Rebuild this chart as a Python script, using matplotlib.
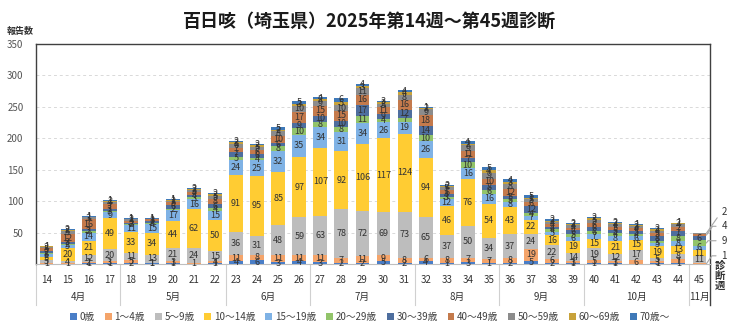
import matplotlib
matplotlib.use("Agg")
import matplotlib.pyplot as plt
import matplotlib.transforms as mtransforms
from matplotlib.patches import Patch
import numpy as np

plt.rcParams['font.family'] = ['Noto Sans CJK JP', 'DejaVu Sans']

weeks = list(range(14, 46))
months = ['4月', '5月', '6月', '7月', '8月', '9月', '10月', '11月']
month_weeks = [4, 5, 4, 5, 4, 4, 5, 1]

age_groups = ['0歳', '1～4歳', '5～9歳', '10～14歳', '15～19歳', '20～29歳',
              '30～39歳', '40～49歳', '50～59歳', '60～69歳', '70歳～']
colors = ['#4A7EC7', '#F4A46A', '#BDBDBD', '#FFCC33', '#7FB2E5', '#92C46A',
          '#4E6E9E', '#C47A4C', '#8C8C8C', '#C8A23A', '#3F79B8']

# counts per week (14..45) for each age group
age_0 = [0, 0, 1, 1, 2, 1, 1, 0, 1, 4, 6, 3, 4, 3, 2, 2, 5, 2,
         4, 1, 3, 1, 2, 5, 2, 1, 1, 1, 0, 1, 1, 0]
age_1_4 = [1, 1, 2, 3, 5, 1, 3, 1, 4, 11, 8, 11, 11, 11, 7, 11, 9, 8,
           6, 8, 7, 7, 8, 19, 6, 3, 5, 3, 6, 3, 7, 1]
age_5_9 = [5, 4, 12, 20, 11, 13, 21, 24, 15, 36, 31, 48, 59, 63, 78, 72, 69, 73,
           65, 37, 50, 34, 37, 24, 22, 14, 19, 12, 17, 5, 8, 11]
age_10_14 = [5, 20, 21, 49, 33, 34, 44, 62, 50, 91, 95, 85, 97, 107, 92, 106, 117, 124,
             94, 46, 76, 54, 43, 22, 16, 19, 15, 21, 15, 19, 13, 11]
age_15_19 = [5, 5, 14, 9, 11, 15, 17, 16, 15, 24, 25, 32, 35, 34, 31, 34, 26, 19,
             26, 12, 16, 16, 8, 7, 5, 6, 7, 8, 6, 5, 8, 6]
age_20_29 = [2, 2, 2, 3, 2, 2, 2, 3, 4, 5, 4, 8, 10, 8, 8, 11, 4, 7,
             10, 3, 10, 6, 5, 4, 4, 5, 6, 4, 4, 3, 8, 9]
age_30_39 = [2, 3, 3, 3, 2, 2, 6, 4, 6, 7, 6, 6, 9, 10, 10, 17, 9, 12,
             14, 4, 7, 8, 5, 12, 4, 6, 6, 5, 5, 8, 7, 6]
age_40_49 = [5, 12, 16, 7, 3, 3, 5, 4, 8, 7, 6, 10, 17, 15, 15, 16, 11, 16,
             18, 6, 11, 10, 12, 6, 4, 4, 6, 5, 4, 5, 7, 4]
age_50_59 = [2, 5, 3, 4, 2, 1, 2, 3, 5, 6, 5, 8, 10, 9, 10, 11, 5, 8,
             9, 5, 9, 9, 8, 5, 4, 4, 5, 4, 3, 4, 4, 2]
age_60_69 = [1, 2, 1, 2, 1, 0, 1, 2, 3, 3, 3, 2, 3, 2, 5, 3, 2, 4,
             2, 2, 2, 4, 3, 1, 2, 2, 3, 2, 2, 2, 2, 0]
age_70 = [0, 2, 1, 1, 1, 1, 1, 2, 2, 2, 2, 5, 5, 4, 6, 4, 3, 4,
          1, 2, 4, 5, 4, 5, 2, 2, 2, 2, 1, 2, 1, 0]

series = [age_0, age_1_4, age_5_9, age_10_14, age_15_19, age_20_29,
          age_30_39, age_40_49, age_50_59, age_60_69, age_70]

# age groups of the last week whose values sit outside the bar
outside_last = [8, 7, 5, 1]

fig = plt.figure(figsize=(7.4, 3.27), dpi=100)
ax = fig.add_axes([36 / 740, 1 - 264 / 327, 674 / 740, 220 / 327])

x = np.arange(len(weeks))
bottom = np.zeros(len(weeks))
for gi, (vals, col) in enumerate(zip(series, colors)):
    vals = np.array(vals, dtype=float)
    ax.bar(x, vals, bottom=bottom, width=0.66, color=col, zorder=3)
    for i, v in enumerate(vals):
        if v <= 0:
            continue
        if i == len(weeks) - 1 and gi in outside_last:
            continue
        ax.text(x[i], bottom[i] + v / 2, f'{int(v)}', ha='center', va='center',
                fontsize=6.5, color='#333333', zorder=5)
    bottom += vals

# callout labels for the last bar, stacked to the right of the plot
last = len(weeks) - 1
cum = np.cumsum([s[last] for s in series])
callout_y = [83, 60, 37, 13]
for gi, ty in zip(outside_last, callout_y):
    mid = cum[gi] - series[gi][last] / 2
    ax.annotate(f'{series[gi][last]}', xy=(x[last] + 0.33, mid),
                xytext=(x[last] + 1.05, ty), fontsize=7, color='#333333',
                ha='left', va='center', annotation_clip=False,
                arrowprops=dict(arrowstyle='-', color='#A6A6A6', lw=0.8,
                                shrinkA=2, shrinkB=0,
                                connectionstyle='angle,angleA=0,angleB=55,rad=0'))

ax.set_xlim(-0.5, len(weeks) - 0.5)
ax.set_ylim(0, 350)
ax.set_yticks(range(50, 351, 50))
ax.tick_params(axis='y', length=0, labelsize=7, labelcolor='#555555', pad=9)
ax.set_xticks(x)
ax.set_xticklabels([str(w) for w in weeks])
ax.tick_params(axis='x', length=0, labelsize=7, labelcolor='#333333', pad=8)
for yv in range(50, 350, 50):
    ax.axhline(yv, color='#D9D9D9', lw=0.7, ls=(0, (3, 3)), zorder=1)

for side in ['top', 'left', 'right']:
    ax.spines[side].set_color('#404040')
    ax.spines[side].set_linewidth(1.0)
ax.spines['bottom'].set_color('#BFBFBF')
ax.spines['bottom'].set_linewidth(0.8)

# month group labels and separators below the axis
trans = mtransforms.blended_transform_factory(ax.transData, fig.transFigure)
y_top = 1 - 264 / 327
y_bot = 1 - 305 / 327
start = 0
for m, n in zip(months, month_weeks):
    left = start - 0.5
    ax.plot([left, left], [y_top, y_bot], transform=trans, color='#D0D0D0',
            lw=0.8, clip_on=False)
    ax.text(start + (n - 1) / 2, 1 - 297 / 327, m, transform=trans,
            ha='center', va='center', fontsize=7, color='#333333')
    start += n
ax.plot([start - 0.5, start - 0.5], [y_top, y_bot], transform=trans,
        color='#404040', lw=1.0, clip_on=False)

fig.text(20 / 740, 1 - 31 / 327, '報告数', ha='center', va='center',
         fontsize=6.5, fontweight='bold', color='#333333')
fig.text(720 / 740, 1 - 276 / 327, '診\n断\n週', ha='center', va='center',
         fontsize=7.5, fontweight='bold', color='#333333', linespacing=1.0)

fig.text(0.5, 1 - 21 / 327, '百日咳（埼玉県）2025年第14週～第45週診断',
         ha='center', va='center', fontsize=13, fontweight='bold', color='#1a1a1a')

handles = [Patch(facecolor=c, edgecolor='none') for c in colors]
fig.legend(handles, age_groups, loc='center', bbox_to_anchor=(0.5, 1 - 317 / 327),
           ncol=len(age_groups), frameon=False, fontsize=7, handlelength=0.7,
           handleheight=0.7, handletextpad=0.3, columnspacing=1.0,
           labelcolor='#404040')

fig.savefig('out.png', dpi=100)
